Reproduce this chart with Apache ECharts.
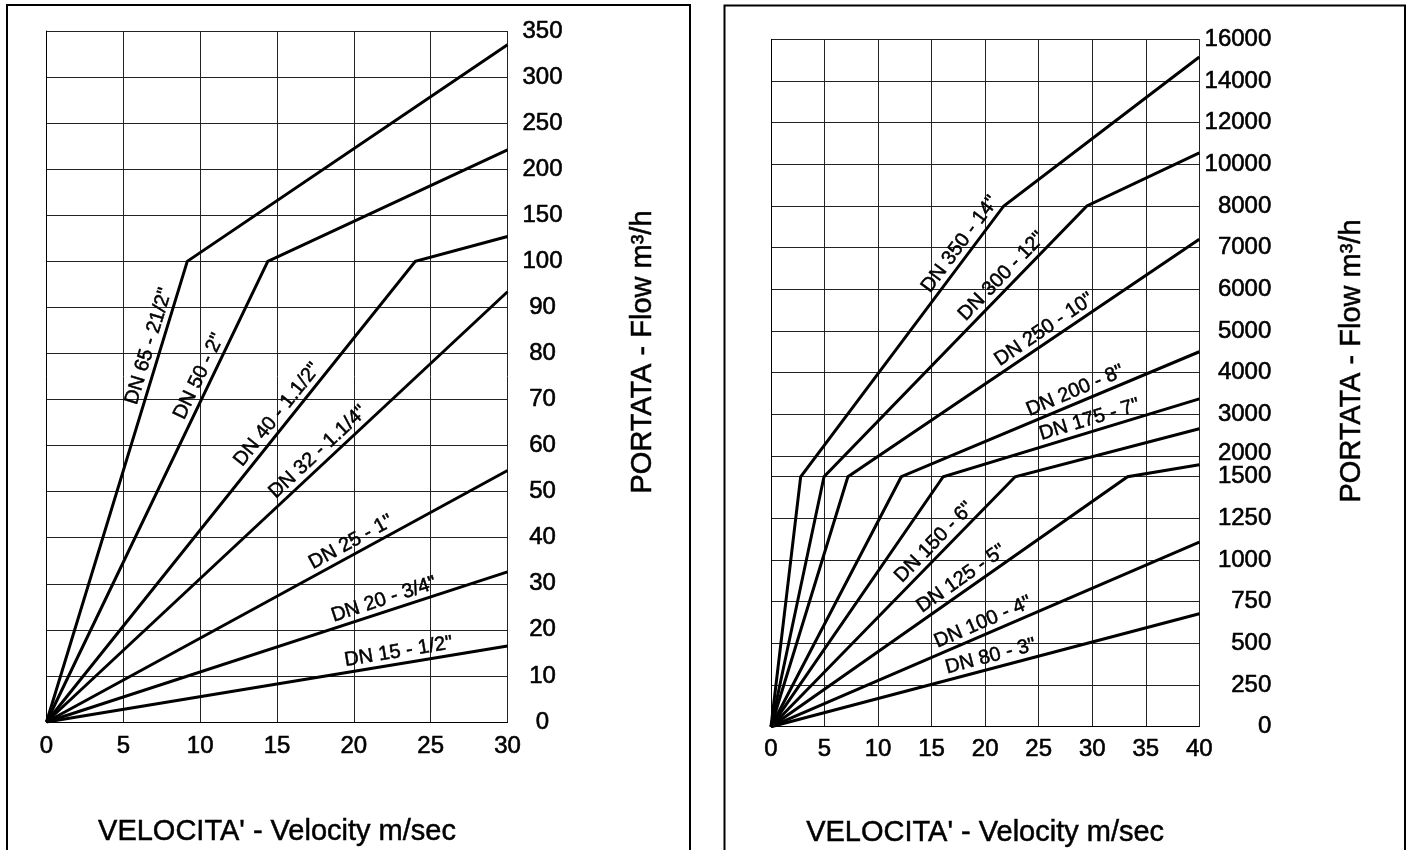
<!DOCTYPE html>
<html>
<head>
<meta charset="utf-8">
<script src="https://cdn.jsdelivr.net/npm/echarts@6/dist/echarts.min.js"></script>
<style>
html,body{margin:0;padding:0;background:#fff;}
#c{width:1410px;height:850px;}
</style>
</head>
<body>
<div id="c"></div>
<script>
// ---------------- data ----------------
const leftXTicks  = [0, 5, 10, 15, 20, 25, 30];
const leftYTicks  = [0, 10, 20, 30, 40, 50, 60, 70, 80, 90, 100, 150, 200, 250, 300, 350];
const rightXTicks = [0, 5, 10, 15, 20, 25, 30, 35, 40];
const rightYTicks = [0, 250, 500, 750, 1000, 1250, 1500, 2000, 3000, 4000, 5000, 6000, 7000, 8000, 10000, 12000, 14000, 16000];

const leftNames = ['DN 65 - 21/2"', 'DN 50 - 2"', 'DN 40 - 1.1/2"', 'DN 32 - 1.1/4"', 'DN 25 - 1"', 'DN 20 - 3/4"', 'DN 15 - 1/2"'];
const dn65 = [[0, 0], [9.16, 100], [30, 335]];
const dn50 = [[0, 0], [14.4, 100], [30, 221]];
const dn40 = [[0, 0], [24, 100], [30, 127]];
const dn32 = [[0, 0], [30, 93.4]];
const dn25 = [[0, 0], [30, 54.6]];
const dn20 = [[0, 0], [30, 32.6]];
const dn15 = [[0, 0], [30, 16.5]];

const rightNames = ['DN 350 - 14"', 'DN 300 - 12"', 'DN 250 - 10"', 'DN 200 - 8"', 'DN 175 - 7"', 'DN 150 - 6"', 'DN 125 - 5"', 'DN 100 - 4"', 'DN 80 - 3"'];
const dn350 = [[0, 0], [2.77, 1500], [21.74, 8000], [40, 15150]];
const dn300 = [[0, 0], [4.95, 1500], [29.5, 8000], [40, 10550]];
const dn250 = [[0, 0], [7.18, 1500], [40, 7200]];
const dn200 = [[0, 0], [12.17, 1500], [40, 4500]];
const dn175 = [[0, 0], [16.08, 1500], [40, 3370]];
const dn150 = [[0, 0], [22.8, 1500], [40, 2650]];
const dn125 = [[0, 0], [33.3, 1500], [40, 1790]];
const dn100 = [[0, 0], [40, 1108]];
const dn80  = [[0, 0], [40, 678]];

// ---------------- layout / style config ----------------
const FONT = '"Liberation Sans", Arial, Helvetica, sans-serif';
const leftSets  = [dn65, dn50, dn40, dn32, dn25, dn20, dn15];
const rightSets = [dn350, dn300, dn250, dn200, dn175, dn150, dn125, dn100, dn80];
// label placement: [segment index, fraction along segment]
const leftLabelAt  = [[0, 0.808], [0, 0.739], [0, 0.651], [0, 0.607], [0, 0.673], [0, 0.74], [0, 0.768]];
const rightLabelAt = [[1, 0.832], [1, 0.709], [1, 0.578], [1, 0.599], [1, 0.585], [0, 0.704], [0, 0.553], [0, 0.506], [0, 0.52]];
const LABEL_OFF = 12;

// piecewise axis scales (grid rows)
function uL(v) { return v <= 100 ? v / 10 : 10 + (v - 100) / 50; }
function uR(v) {
  if (v <= 1500) return v / 250;
  if (v <= 8000) return 6 + (v - 1500) / 1000;
  return 12.5 + (v - 8000) / 2000;
}

const tickText = { fontSize: 24, fontFamily: FONT, color: '#000', textBorderColor: '#000', textBorderWidth: 0.6 };
const nameText = { fontSize: 29, fontFamily: FONT, color: '#000', textBorderColor: '#000', textBorderWidth: 0.5 };
const gridLine = { show: true, lineStyle: { color: '#222', width: 1 } };

function xAxisCfg(gridIndex, max, nameGap, margin) {
  return {
    type: 'value', gridIndex: gridIndex, min: 0, max: max, interval: 5,
    name: "VELOCITA' - Velocity m/sec", nameLocation: 'middle', nameGap: nameGap,
    nameTextStyle: nameText,
    axisLine: { show: true, lineStyle: { color: '#000', width: 1 } },
    axisTick: { show: false },
    axisLabel: Object.assign({ margin: margin, hideOverlap: false }, tickText),
    splitLine: gridLine
  };
}

function yAxisCfg(gridIndex, ticks, f, align, margin, nameGap, namePad) {
  const vals = ticks.map(f);
  return {
    type: 'value', gridIndex: gridIndex, position: 'right', min: 0, max: vals[vals.length - 1],
    name: 'PORTATA - Flow m\u00B3/h', nameLocation: 'middle', nameRotate: 90, nameGap: nameGap,
    nameTextStyle: Object.assign({ padding: [0, 0, 0, namePad] }, nameText),
    axisLine: { show: true, lineStyle: { color: '#000', width: 1 } },
    axisTick: { show: false, customValues: vals },
    axisLabel: Object.assign({
      customValues: vals, align: align, margin: margin, hideOverlap: false,
      showMinLabel: true, showMaxLabel: true,
      formatter: function (val) {
        const i = vals.findIndex(function (u) { return Math.abs(u - val) < 1e-6; });
        if (i < 0) return '';
        const t = ticks[i];
        return t === 2000 ? '{up|2000}' : String(t);
      },
      rich: { up: Object.assign({ padding: [0, 0, 5, 0] }, tickText) }
    }, tickText),
    splitLine: gridLine
  };
}

const series = [];
leftSets.forEach(function (d, i) {
  series.push({
    type: 'line', name: leftNames[i], xAxisIndex: 0, yAxisIndex: 0,
    data: d.map(function (p) { return [p[0], uL(p[1])]; }),
    symbol: 'none', silent: true, z: 5,
    lineStyle: { color: '#000', width: 3, join: 'miter' }
  });
});
rightSets.forEach(function (d, i) {
  series.push({
    type: 'line', name: rightNames[i], xAxisIndex: 1, yAxisIndex: 1,
    data: d.map(function (p) { return [p[0], uR(p[1])]; }),
    symbol: 'none', silent: true, z: 5,
    lineStyle: { color: '#000', width: 3, join: 'miter' }
  });
});

const borders = [
  { type: 'rect', id: 'b1', silent: true, shape: { x: 7, y: 5, width: 683, height: 900 }, style: { fill: 'transparent', stroke: '#000', lineWidth: 2 } },
  { type: 'rect', id: 'b2', silent: true, shape: { x: 724.5, y: 5.5, width: 680.5, height: 900 }, style: { fill: 'transparent', stroke: '#000', lineWidth: 2 } }
];

const chart = echarts.init(document.getElementById('c'), null, { renderer: 'canvas' });
chart.setOption({
  animation: false,
  backgroundColor: '#fff',
  grid: [
    { left: 46.5, top: 31, width: 461, height: 691, outerBoundsMode: 'none', containLabel: false },
    { left: 771, top: 39.3, width: 428.3, height: 687.4, outerBoundsMode: 'none', containLabel: false }
  ],
  xAxis: [xAxisCfg(0, 30, 95, 12), xAxisCfg(1, 40, 92, 11)],
  yAxis: [
    yAxisCfg(0, leftYTicks, uL, 'center', 35, 121, 49),
    yAxisCfg(1, rightYTicks, uR, 'right', 72, 138, 44)
  ],
  series: series,
  graphic: { elements: borders }
});

// ---------------- line labels, placed along their lines ----------------
const labels = [];
function addLabels(offset, names, sets, f, at) {
  sets.forEach(function (d, i) {
    const seg = at[i][0], t = at[i][1];
    const A = chart.convertToPixel({ seriesIndex: offset + i }, [d[seg][0], f(d[seg][1])]);
    const B = chart.convertToPixel({ seriesIndex: offset + i }, [d[seg + 1][0], f(d[seg + 1][1])]);
    const dx = B[0] - A[0], dy = B[1] - A[1], L = Math.hypot(dx, dy);
    const nx = dy / L, ny = -dx / L;
    labels.push({
      type: 'text', id: 'lab' + (offset + i), silent: true, z: 100,
      x: A[0] + t * dx + LABEL_OFF * nx,
      y: A[1] + t * dy + LABEL_OFF * ny,
      rotation: Math.atan2(-dy, dx),
      style: {
        text: names[i], font: '20px ' + FONT, fill: '#000', stroke: '#000', lineWidth: 0.5,
        align: 'center', verticalAlign: 'middle', textAlign: 'center', textVerticalAlign: 'middle'
      }
    });
  });
}
addLabels(0, leftNames, leftSets, uL, leftLabelAt);
addLabels(leftSets.length, rightNames, rightSets, uR, rightLabelAt);
chart.setOption({ graphic: { elements: borders.concat(labels) } });
</script>
</body>
</html>
